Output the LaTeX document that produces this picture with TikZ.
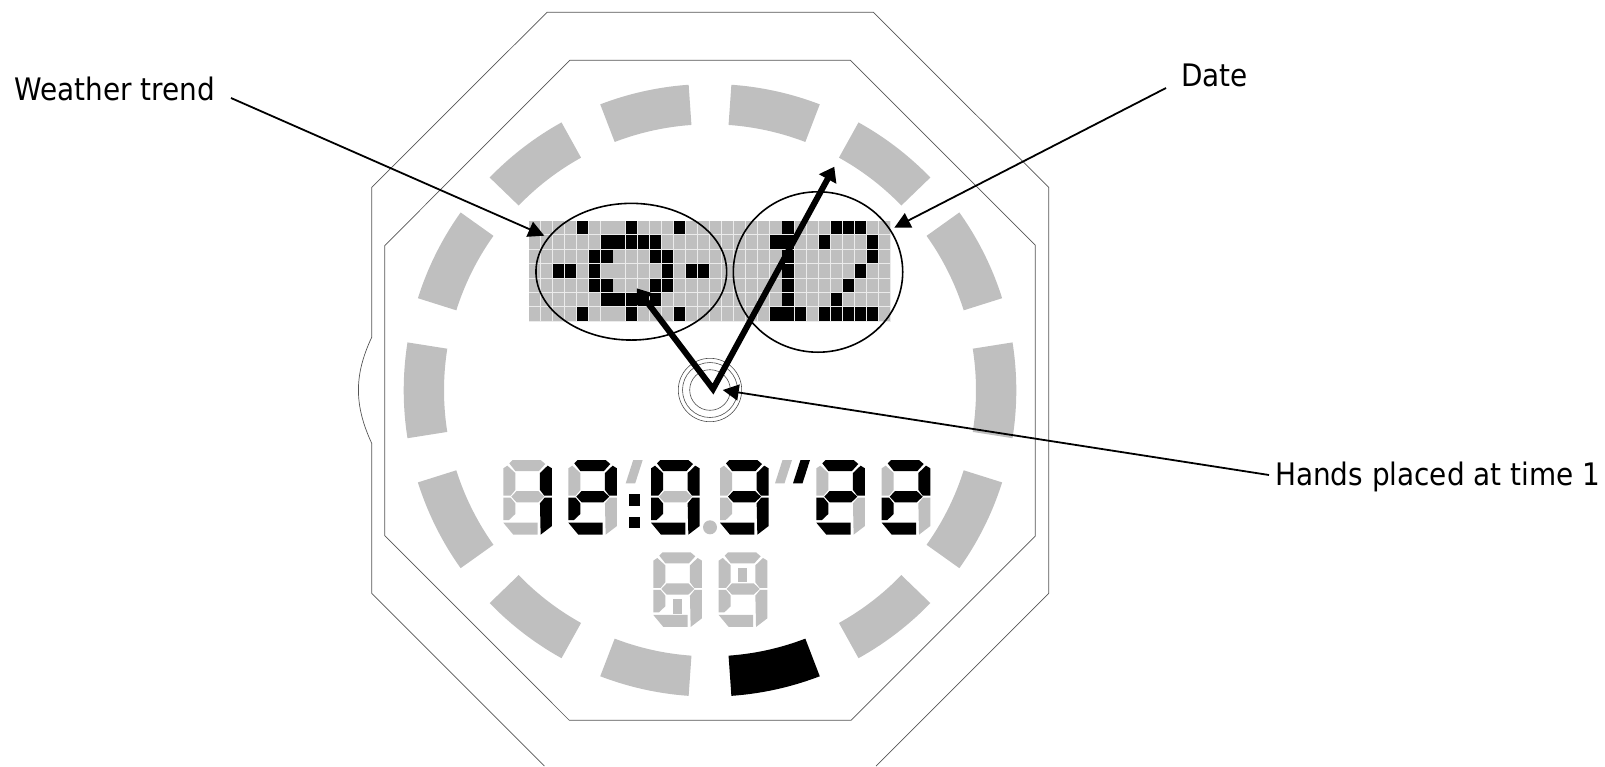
\documentclass[tikz,border=0pt]{standalone}
\usepackage{fontspec}
\setmainfont{DejaVu Sans Condensed}
\usetikzlibrary{arrows.meta,shapes.geometric}
\definecolor{segG}{HTML}{BFBFBF}
\definecolor{outl}{HTML}{555555}
\tikzset{
  outline/.style={draw=outl,line width=.7pt,line join=miter},
  leader/.style={draw=black,line width=1.8pt,-{Triangle[length=16pt,width=16pt]}},
  handline/.style={draw=black,line width=6pt,line join=miter,{Triangle[length=14pt,width=19pt]}-{Triangle[length=14pt,width=19pt]}},
  lens/.style={draw=black,line width=1.6pt,ellipse,inner sep=0pt,outer sep=0pt},
  ringline/.style={draw=black!70,line width=.6pt},
  lab/.style={anchor=base west,inner sep=0pt,font=\fontsize{31}{34}\selectfont}
}
\newcommand{\ringseg}[3]{% from-top angles (clockwise), colour
  \fill[#3] plot[domain=#1:#2,samples=24] ({710+306.3*sin(\x)},{390.3-306.3*cos(\x)})
    -- plot[domain=#2:#1,samples=24] ({710+266*sin(\x)},{390.3-266*cos(\x)}) -- cycle;}
\newcommand{\digitseg}[9]{%
  \begin{scope}[shift={(#1,#2)},x=.3333pt,y=-.3333pt]
    \fill[#3] (18,10)--(28,0)--(112,0)--(126,12)--(107,33)--(36,33)--cycle;
    \fill[#4] (146,25)--(133,17)--(110,39)--(110,90)--(123,107)--(146,107)--cycle;
    \fill[#5] (146,113)--(124,113)--(110,130)--(112,224)--(146,198)--cycle;
    \fill[#6] (0,188)--(103,188)--(103,224)--(30,224)--cycle;
    \fill[#7] (0,113)--(22,113)--(36,130)--(36,162)--(17,180)--(0,180)--cycle;
    \fill[#8] (0,25)--(12,17)--(36,39)--(36,90)--(22,107)--(0,107)--cycle;
    \fill[#9] (24,110)--(40,93)--(105,93)--(123,110)--(105,127)--(40,127)--cycle;
  \end{scope}}
\newcommand{\tickmark}[3]{%
  \fill[#3] (#1+7.5,#2) -- (#1+17,#2) -- (#1+9.5,#2+23.3) -- (#1,#2+23.3) -- cycle;}
\begin{document}
\begin{tikzpicture}[x=1pt,y=-1pt]
\useasboundingbox (0,0) rectangle (1605,766);
% casing
\draw[outline] (544.3,766) -- (371.7,593.3) -- (371.7,443.3)
  .. controls (354,405) and (354,375) .. (371.7,337.3)
  -- (371.7,187.3) -- (547,12.3) -- (873.3,12.3) -- (1048.7,187.3) -- (1048.7,593.3) -- (876,766);
\draw[outline] (569.7,60.3) -- (384.8,245.5) -- (384.8,535.7) -- (569.3,720.3) -- (851,720.3)
  -- (1035.3,536) -- (1035.3,245.3) -- (850.3,60.3) -- cycle;
% ring
\foreach \a/\b in {4/21,29/46,54.5/72.5,81/99,107.5/125.5,134/151,
  -21/-4,-46/-29,-72.5/-54.5,-99/-81,-125.5/-107.5,-151/-134,-176/-159}{\ringseg{\a}{\b}{segG}}
\ringseg{159}{176}{black}
% dot matrix
\fill[black!8] (529,221) rectangle (891,321.8);
\foreach \c in {0,...,29}\foreach \r in {0,...,6}{
  \fill[segG] ({529+12.07*\c},{221+14.4*\r}) rectangle +(11.1,13.4);}
\foreach \c/\r in {4/0,8/0,12/0,21/0,25/0,26/0,27/0,
  6/1,7/1,8/1,9/1,10/1,20/1,21/1,24/1,28/1,
  5/2,6/2,10/2,11/2,21/2,28/2,
  2/3,3/3,5/3,11/3,13/3,14/3,21/3,27/3,
  5/4,6/4,10/4,11/4,21/4,26/4,
  6/5,7/5,8/5,9/5,10/5,21/5,25/5,
  4/6,8/6,12/6,20/6,21/6,22/6,24/6,25/6,26/6,27/6,28/6}{
  \fill[black] ({529+12.07*\c},{221+14.4*\r}) rectangle +(11.1,13.4);}
% lcd time
\digitseg{503.3}{460}{segG}{black}{black}{segG}{segG}{segG}{segG}
\digitseg{568.3}{460}{black}{black}{segG}{black}{black}{segG}{black}
\digitseg{651}{460}{black}{black}{black}{black}{black}{black}{segG}
\digitseg{720}{460}{black}{black}{black}{black}{segG}{segG}{black}
\digitseg{816.3}{460}{black}{black}{segG}{black}{black}{segG}{black}
\digitseg{881.7}{460}{black}{black}{segG}{black}{black}{segG}{black}
\fill[black] (629.3,494) rectangle (640,506);
\fill[black] (629.3,516.7) rectangle (640,528);
\fill[segG] (710,527.3) circle[radius=7];
\tickmark{625.7}{460}{segG}
\tickmark{775}{460}{segG}
\tickmark{793}{460}{black}
% small digits
\digitseg{653.3}{552.3}{segG}{segG}{segG}{segG}{segG}{segG}{segG}
\digitseg{718.7}{552.3}{segG}{segG}{segG}{segG}{segG}{segG}{segG}
\fill[segG] (673,599.3) rectangle (681.7,614);
\fill[segG] (738.3,567.7) rectangle (747,582.3);
% pivot
\foreach \r in {20.3,27.5,31.7}{\draw[ringline] (710,390) circle[radius=\r];}
% lenses
\node[lens,minimum width=190.7pt,minimum height=136.7pt] (weatherlens) at (631.3,271.7) {};
\node[lens,minimum width=169.4pt,minimum height=160.4pt] (datelens) at (818,272) {};
% hands
\coordinate (apex) at (713,389);
\coordinate (handA) at (636.7,288.3);
\coordinate (handB) at (834.3,166.7);
\draw[handline] (handA) -- (apex) -- (handB);
% labels
\node[lab] (weather) at (14.3,100.5) {Weather trend};
\node[lab] (date) at (1181,86) {Date};
\node[lab] (hands) at (1275,485.5) {Hands placed at time 1};
\coordinate (weatherS) at (231,98);
\coordinate (weatherT) at (544.3,235.7);
\coordinate (dateS) at (1166,88);
\coordinate (dateT) at (894.3,227.7);
\coordinate (handsS) at (1269,475);
\coordinate (handsT) at (722.7,390);
\draw[leader] (weatherS) -- (weatherT);
\draw[leader] (dateS) -- (dateT);
\draw[leader] (handsS) -- (handsT);
\end{tikzpicture}
\end{document}
